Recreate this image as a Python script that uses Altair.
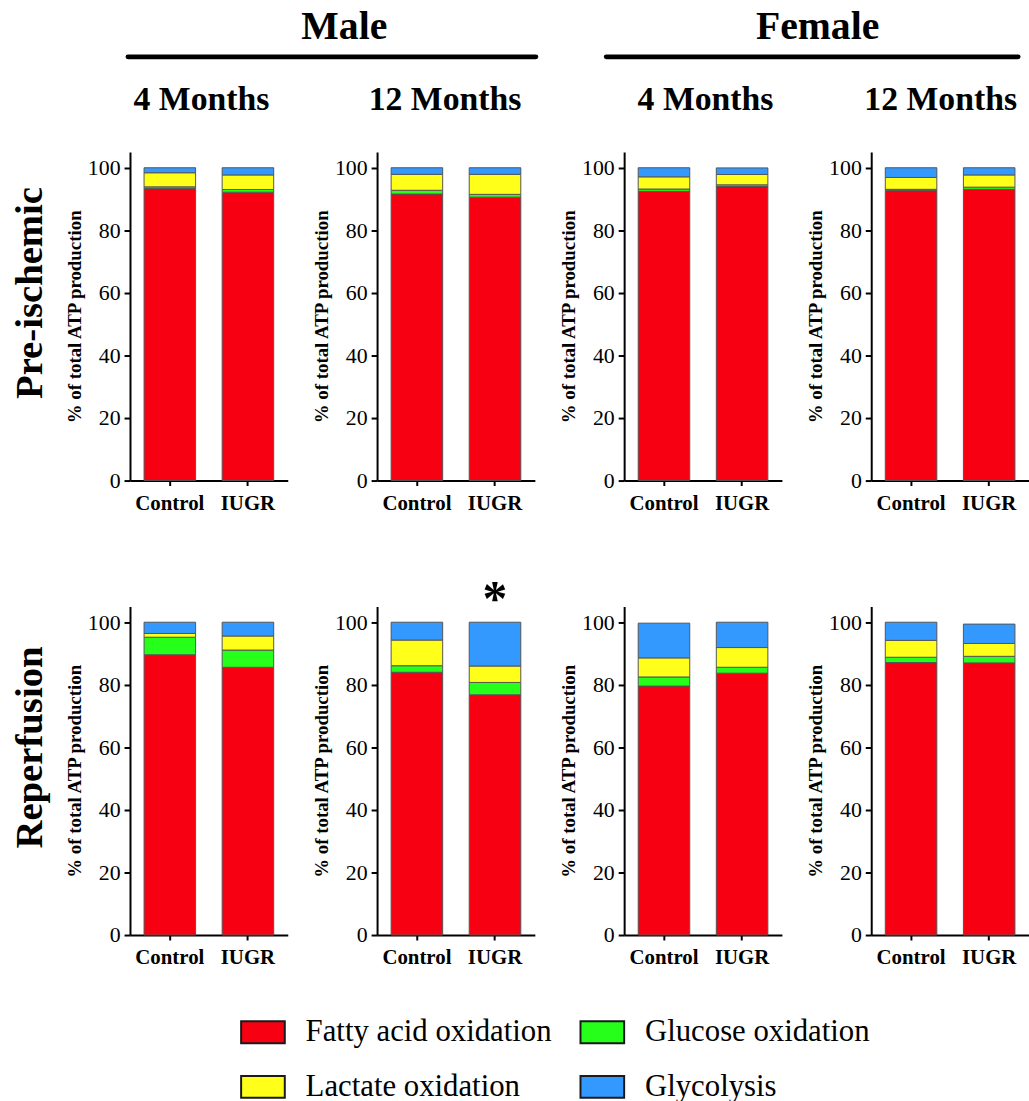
import altair as alt
import pandas as pd

SERIF = "Liberation Serif"

groups = ["Control", "IUGR"]
phases = ["Pre-ischemic", "Reperfusion"]
sexes = ["Male", "Female"]
ages = ["4 Months", "12 Months"]
series = ["Fatty acid oxidation", "Glucose oxidation", "Lactate oxidation", "Glycolysis"]
colors = ["#F70012", "#26FF1A", "#FFFF1A", "#3399FF"]

# % of total ATP production; order: phase > sex > age > group
fatty_acid = [93.4, 92.2, 91.6, 90.6, 92.45, 94.0, 92.8, 93.1,
              89.6, 85.6, 84.0, 76.8, 79.6, 83.7, 87.1, 87.0]
glucose = [0.5, 0.85, 1.2, 0.9, 0.75, 0.55, 0.3, 0.7,
           5.6, 5.5, 2.1, 3.95, 2.9, 1.9, 1.7, 2.1]
lactate = [4.5, 4.65, 5.1, 6.4, 3.9, 3.3, 3.8, 3.9,
           1.2, 4.5, 8.2, 5.25, 6.1, 6.3, 5.4, 4.1]
glycolysis = [1.6, 2.3, 2.1, 2.1, 2.9, 2.1, 3.1, 2.3,
              3.6, 4.4, 5.7, 14.0, 11.1, 8.1, 5.8, 6.2]

# significant difference vs. Control
significance = [("Reperfusion", "Male", "12 Months", "IUGR", "*")]

y_ticks = [0, 20, 40, 60, 80, 100]
y_title = "% of total ATP production"

# ---- long table -------------------------------------------------------
records = []
i = 0
for ph in phases:
    for sx in sexes:
        for ag in ages:
            for g in groups:
                vals = [fatty_acid[i], glucose[i], lactate[i], glycolysis[i]]
                for k, (s, v) in enumerate(zip(series, vals)):
                    records.append(dict(phase=ph, sex=sx, age=ag, group=g,
                                        series=s, order=k, value=v))
                i += 1
df = pd.DataFrame(records)

totals = df.groupby(["phase", "sex", "age", "group"], as_index=False)["value"].sum()

W, H = 159, 331

legend = alt.Legend(
    title=None, orient="none", legendX=111, legendY=864,
    direction="horizontal", columns=2,
    symbolType="M-1,-0.5H1V0.5H-1Z", symbolSize=1936,
    symbolStrokeColor="#1a1a1a", symbolStrokeWidth=2, symbolOpacity=1,
    labelFont=SERIF, labelFontSize=31, labelColor="black", labelLimit=500,
    labelOffset=20, columnPadding=25, rowPadding=17,
)


def text_layer(text, x, y, size, angle=0, weight="bold", baseline="alphabetic"):
    return alt.Chart(pd.DataFrame({"t": [text]})).mark_text(
        font=SERIF, fontSize=size, fontWeight=weight, angle=angle,
        align="center", baseline=baseline, color="black",
    ).encode(text="t:N", x=alt.value(x), y=alt.value(y))


def header_rule(x1, x2, y):
    return alt.Chart(pd.DataFrame({"r": [0]})).mark_rule(
        color="black", strokeWidth=5, strokeCap="round"
    ).encode(x=alt.value(x1), x2=alt.value(x2), y=alt.value(y))


# horizontal centre of the age heading above each column
age_x = [72, 68.5, 82, 70]
sex_header = {"Male": (216, -2, 409), "Female": (195, -18, 397)}


def panel(ph, sx, ag, col, row):
    sub = df[(df.phase == ph) & (df.sex == sx) & (df.age == ag)]
    bars = alt.Chart(sub).mark_bar(stroke="#555555", strokeWidth=1).encode(
        x=alt.X("group:N", sort=groups,
                scale=alt.Scale(paddingInner=0.34, paddingOuter=0.18),
                axis=alt.Axis(title=None, labelAngle=0, labelFontWeight="bold",
                              labelFontSize=21, tickSize=5, labelPadding=7)),
        y=alt.Y("value:Q", stack="zero",
                scale=alt.Scale(domain=[0, 105], nice=False),
                axis=alt.Axis(values=y_ticks, title=y_title, grid=False,
                              labelFontSize=22, tickSize=6, labelPadding=4,
                              titleFontSize=19, titleFontWeight="bold",
                              titlePadding=3)),
        color=alt.Color("series:N", scale=alt.Scale(domain=series, range=colors),
                        legend=legend),
        order=alt.Order("order:Q"),
    )
    layers = [bars]

    sig = [s for s in significance if s[0] == ph and s[1] == sx and s[2] == ag]
    if sig:
        tot = totals[(totals.phase == ph) & (totals.sex == sx) & (totals.age == ag)]
        sig_df = pd.DataFrame([{"group": s[3], "label": s[4]} for s in sig])
        sig_df = sig_df.merge(tot[["group", "value"]], on="group")
        layers.append(
            alt.Chart(sig_df).mark_text(font=SERIF, fontSize=50, fontWeight="bold",
                                        baseline="alphabetic", dy=-7, color="black")
            .encode(x=alt.X("group:N", sort=groups), y="value:Q", text="label:N")
        )

    if row == 0:
        layers.append(text_layer(ag, age_x[col], -42, 34))
        if ag == ages[0]:
            tx, r1, r2 = sex_header[sx]
            layers.append(text_layer(sx, tx, -114, 40))
            layers.append(header_rule(r1, r2, -96))
    if col == 0:
        layers.append(text_layer(ph, -89, 142, 39, angle=270))

    return alt.layer(*layers).properties(width=W, height=H)


panels = []
for r, ph in enumerate(phases):
    c = 0
    for sx in sexes:
        for ag in ages:
            panels.append(panel(ph, sx, ag, c, r))
            c += 1

chart = alt.concat(
    *panels, columns=4, bounds="flush",
    spacing=alt.RowColnumber(row=127, column=90),
).properties(
    padding={"left": 11, "top": 3, "right": 0, "bottom": 0}
).configure_view(
    stroke=None
).configure_axis(
    domainColor="black", domainWidth=2, tickColor="black", tickWidth=2,
    labelColor="black", titleColor="black", labelFont=SERIF, titleFont=SERIF,
)

chart.save("out.html", embed_options={"renderer": "svg", "actions": False})
